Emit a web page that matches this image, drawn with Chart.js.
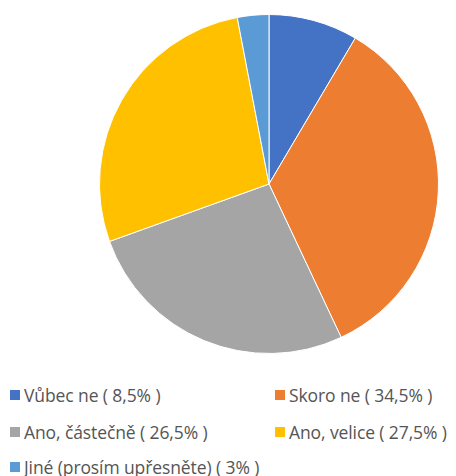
<!DOCTYPE html>
<html>
<head>
<meta charset="utf-8">
<script src="https://cdn.jsdelivr.net/npm/chart.js@4.4.0/dist/chart.umd.min.js"></script>
<style>
  body { margin: 0; background: #fff; width: 456px; height: 476px; overflow: hidden; position: relative; }
  #pieWrap { position: absolute; left: 99px; top: 14px; width: 340px; height: 340px; }
  .legend-item { position: absolute; display: flex; align-items: center; font-family: "Open Sans", sans-serif; font-size: 17.5px; color: #555555; white-space: nowrap; letter-spacing: -0.1px; }
  .legend-item span.box { display: inline-block; width: 10px; height: 10px; margin-right: 4px; }
</style>
</head>
<body>
<div id="pieWrap"><canvas id="pieChart"></canvas></div>
<div id="legend"></div>
<script>
const categories = ['Vůbec ne', 'Skoro ne', 'Ano, částečně', 'Ano, velice', 'Jiné (prosím upřesněte)'];
const shares = [8.5, 34.5, 26.5, 27.5, 3];
const colors = ['#4472c4', '#ed7d31', '#a5a5a5', '#ffc000', '#5b9bd5'];

const labels = categories.map((c, i) => c + ' ( ' + String(shares[i]).replace('.', ',') + '% )');

const ctx = document.getElementById('pieChart').getContext('2d');
const pieChart = new Chart(ctx, {
  type: 'pie',
  data: {
    labels: labels,
    datasets: [{
      data: shares,
      backgroundColor: colors,
      borderColor: '#ffffff',
      borderWidth: 1,
    }]
  },
  options: {
    responsive: true,
    maintainAspectRatio: false,
    animation: false,
    layout: { padding: 0 },
    plugins: {
      legend: { display: false },
      tooltip: { enabled: false },
    }
  }
});

// legenda ve dvou sloupcích
const legendPos = [[10, 395], [275, 395], [10, 432], [275, 432], [10, 467]];
const legend = document.getElementById('legend');
labels.forEach((text, i) => {
  const item = document.createElement('div');
  item.className = 'legend-item';
  item.style.left = legendPos[i][0] + 'px';
  item.style.top = (legendPos[i][1] - 12) + 'px';
  const box = document.createElement('span');
  box.className = 'box';
  box.style.background = colors[i];
  item.appendChild(box);
  item.appendChild(document.createTextNode(text));
  legend.appendChild(item);
});
</script>
</body>
</html>
